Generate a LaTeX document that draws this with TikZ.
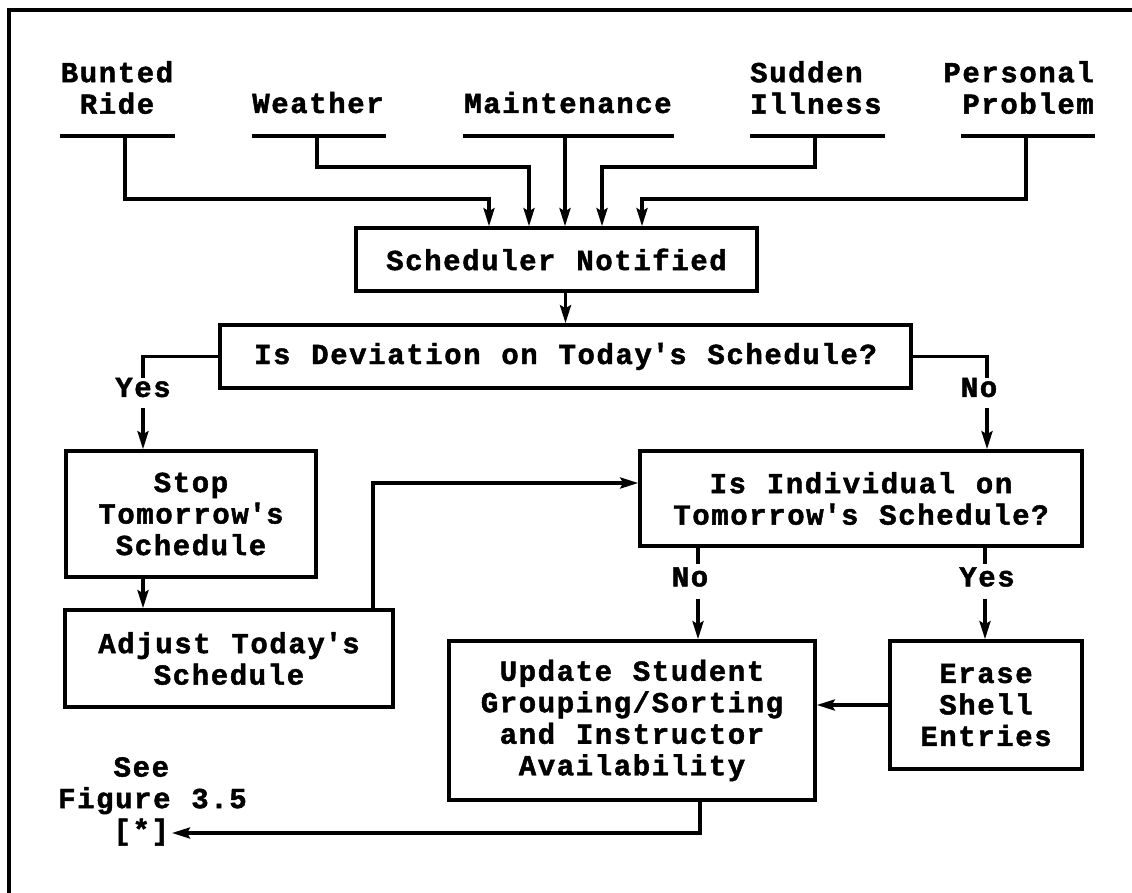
\documentclass[tikz,border=0pt]{standalone}
\usepackage{fontspec}
\setmainfont{Liberation Mono}[LetterSpace=5.5,WordSpace={1.092,0,0},BoldFeatures={FakeBold=1.6}]
\usetikzlibrary{arrows.meta,calc}
\newcommand{\apos}{\textquotesingle}
\begin{document}
\begin{tikzpicture}[x=1pt,y=-1pt,
  every node/.style={font=\bfseries\fontsize{29}{31.5}\selectfont},
  box/.style={draw, line width=3.6pt, inner sep=0pt, align=center},
  lbl/.style={inner sep=0pt, align=center},
  conn/.style={line width=3.3pt},
  arr/.style={conn, -{Stealth[length=18pt,width=11pt,inset=3pt]}},
]
\useasboundingbox (0,0) rectangle (1132,893);
\fill[white] (0,0) rectangle (1132,893);
% outer frame (top and left sides)
\draw[line width=3.3pt] (9,893) -- (9,10) -- (1132,10);

% causes of a schedule deviation
\node[lbl, anchor=north] (bunt) at (117,61) {Bunted\\Ride};
\node[lbl, anchor=base] (wthr) at (318,113) {Weather};
\node[lbl, anchor=base] (mnt) at (568,113) {Maintenance};
\node[lbl, anchor=north west, align=left] (sudd) at (750,61) {Sudden\\Illness};
\node[lbl, anchor=north east, align=right] (pers) at (1094,61) {Personal\\Problem};

% underlines below the causes
\draw[conn] (60,136) -- (175,136);
\draw[conn] (252,136) -- (386,136);
\draw[conn] (463,136) -- (674,136);
\draw[conn] (750,136) -- (885,136);
\draw[conn] (961,136) -- (1095,136);

% process boxes
\node[box, minimum width=401pt, minimum height=63pt] (sched) at (556.5,259.5) {Scheduler Notified};
\node[box, minimum width=691pt, minimum height=63pt] (dev) at (565.5,356.5) {Is Deviation on Today\apos s Schedule?};
\node[box, minimum width=250pt, minimum height=126pt] (stop) at (191,514) {Stop\\Tomorrow\apos s\\Schedule};
\node[box, minimum width=328pt, minimum height=97pt] (adj) at (229,658.5) {Adjust Today\apos s\\Schedule};
\node[box, minimum width=442pt, minimum height=95pt] (indiv) at (861,498.5) {Is Individual on\\Tomorrow\apos s Schedule?};
\node[box, minimum width=366pt, minimum height=159pt] (upd) at (632,720.5) {Update Student\\Grouping/Sorting\\and Instructor\\Availability};
\node[box, minimum width=192pt, minimum height=128pt] (erase) at (986,705) {Erase\\Shell\\Entries};

% branch labels
\node[lbl] (yes1) at (143,387.5) {Yes};
\node[lbl] (no1) at (979,387.5) {No};
\node[lbl] (no2) at (690,577) {No};
\node[lbl] (yes2) at (987,577) {Yes};

% cross reference
\node[lbl, anchor=north west, align=left] (see) at (58,757) {\hphantom{Fig}See\\Figure 3.5\\\hphantom{Fig}[*]};

% causes feeding the scheduler
\coordinate (d1) at (125,136); \coordinate (j1) at (489,199);
\coordinate (d2) at (317,136); \coordinate (j2) at (529,167);
\coordinate (d3) at (565,136);
\coordinate (d4) at (815,136); \coordinate (j4) at (602,167);
\coordinate (d5) at (1026,136); \coordinate (j5) at (642,199);
\draw[arr] (d1) |- (j1) -- (j1 |- sched.north);
\draw[arr] (d2) |- (j2) -- (j2 |- sched.north);
\draw[arr] (d3) -- (d3 |- sched.north);
\draw[arr] (d4) |- (j4) -- (j4 |- sched.north);
\draw[arr] (d5) |- (j5) -- (j5 |- sched.north);

\draw[arr] (sched.south -| dev.north) -- (dev.north);

% Yes branch of the first decision
\coordinate (y1b) at ($(yes1.south)+(0,11)$);
\draw[conn] (dev.west) -| (yes1.north);
\draw[arr] (y1b) -- (y1b |- stop.north);
\draw[arr] (y1b |- stop.south) -- (y1b |- adj.north);

% No branch of the first decision
\coordinate (n1a) at ($(no1.north)+(8,0)$);
\coordinate (n1b) at ($(no1.south)+(8,11)$);
\draw[conn] (dev.east) -| (n1a);
\draw[arr] (n1b) -- (n1b |- indiv.north);

% loop from today's schedule back to the second decision
\coordinate (lp) at (373,483);
\draw[arr] (lp |- adj.north) |- (lp -| indiv.west);

% branches of the second decision
\coordinate (n2a) at ($(no2.north)+(8,-3)$);
\coordinate (n2b) at ($(no2.south)+(8,12)$);
\draw[conn] (n2a |- indiv.south) -- (n2a);
\draw[arr] (n2b) -- (n2b |- upd.north);
\coordinate (y2a) at ($(yes2.north)+(-2,-3)$);
\coordinate (y2b) at ($(yes2.south)+(-2,12)$);
\draw[conn] (y2a |- indiv.south) -- (y2a);
\draw[arr] (y2b) -- (y2b |- erase.north);

\draw[arr] (erase.west) -- (erase.west -| upd.east);

% exit to the cross reference
\coordinate (st) at (172,833);
\coordinate (bt) at (700,833);
\draw[arr] (bt |- upd.south) |- (st);
\end{tikzpicture}
\end{document}
